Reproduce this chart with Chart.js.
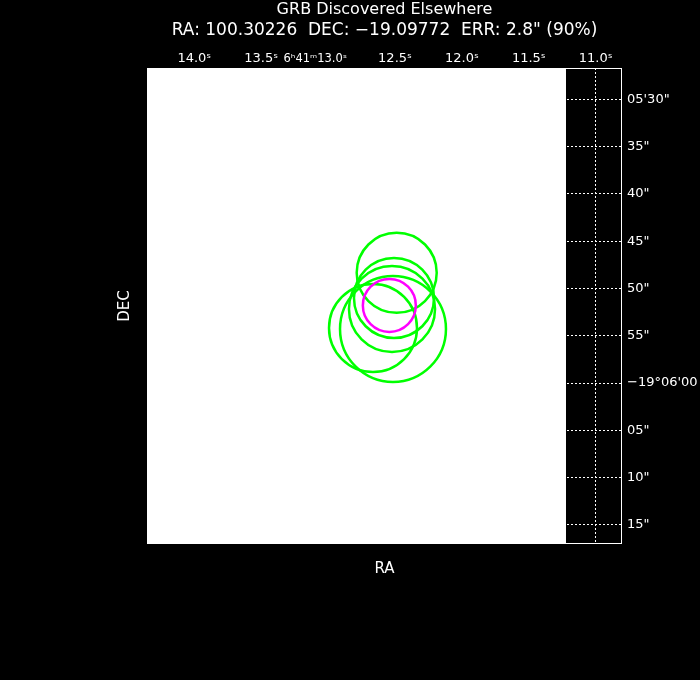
<!DOCTYPE html>
<html>
<head>
<meta charset="utf-8">
<script src="https://cdn.jsdelivr.net/npm/chart.js@4"></script>
<style>
  html, body { margin: 0; padding: 0; background: #000; }
  canvas { display: block; }
</style>
</head>
<body>
<canvas id="myChart" width="700" height="680"></canvas>
<script>
// Error circles: RA in seconds after 6h41m, DEC in arcsec south of -19°05'00"
const circleRa = [12.4873, 12.5075, 12.5224, 12.6644, 12.515];
const circleDec = [48.34, 51.00, 52.17, 54.18, 54.28];
const circleErr = [4.23, 4.23, 4.55, 4.65, 5.6];

// Position found here (90% error)
const bestRa = [12.5423];
const bestDec = [51.79];
const bestErr = [2.8];

// Axis ticks and labels
const nb = "\u00a0";
const raTicks = [11.0, 11.5, 12.0, 12.5, 13.0, 13.5, 14.0];
const raLabels = ["11.0ˢ", "11.5ˢ", "12.0ˢ", "12.5ˢ", "6ʰ41ᵐ13.0ˢ" + nb.repeat(7), "13.5ˢ", "14.0ˢ"];
const decTicks = [30, 35, 40, 45, 50, 55, 60, 65, 70, 75];
const decLabels = ["05'30\"", "35\"", "40\"", "45\"", "50\"", "55\"", "\u221219°06'00", "05\"", "10\"", "15\""];

const raRange = [10.8034, 14.3535];
const decRange = [26.69, 77.01];
const imageEdgeRa = 11.222;   // image stops here, black beyond

const FONT = "'DejaVu Sans', sans-serif";

// arcsec -> pixels, through the DEC scale
function arcsecToPx(chart, r) {
  const s = chart.scales.y;
  return Math.abs(s.getPixelForValue(r) - s.getPixelForValue(0));
}

const skyImage = {
  id: "skyImage",
  beforeDraw(chart) {
    const {ctx, chartArea: a, scales} = chart;
    ctx.save();
    ctx.fillStyle = "#000";
    ctx.fillRect(0, 0, chart.width, chart.height);
    ctx.fillStyle = "#fff";
    const edge = scales.x.getPixelForValue(imageEdgeRa);
    ctx.fillRect(a.left, a.top, edge - a.left, a.bottom - a.top);
    ctx.restore();
  },
  afterDraw(chart) {
    const {ctx, chartArea: a} = chart;
    ctx.save();
    ctx.strokeStyle = "#fff";
    ctx.lineWidth = 1;
    ctx.strokeRect(a.left + 0.5, a.top + 0.5, a.right - a.left - 1, a.bottom - a.top - 1);
    ctx.restore();
  }
};

// an axis used only to carry a title
function titleAxis(position, weight, size, text, padding, afterFit) {
  return {
    type: "linear",
    position: position,
    weight: weight,
    afterFit: afterFit,
    ticks: {display: false},
    grid: {display: false},
    border: {display: false},
    title: {
      display: true,
      text: text,
      color: "#fff",
      font: {family: FONT, size: size, lineHeight: "20px"},
      padding: padding
    }
  };
}

const ctx = document.getElementById("myChart").getContext("2d");
const myChart = new Chart(ctx, {
  type: "bubble",
  data: {
    datasets: [
      {
        label: "ERR 90%",
        data: bestRa.map((x, i) => ({x: x, y: bestDec[i]})),
        radius: c => arcsecToPx(c.chart, bestErr[c.dataIndex]),
        borderColor: "#ff00ff",
        backgroundColor: "rgba(0,0,0,0)",
        borderWidth: 2.5,
        xAxisID: "x",
        yAxisID: "y"
      },
      {
        label: "Other positions",
        data: circleRa.map((x, i) => ({x: x, y: circleDec[i]})),
        radius: c => arcsecToPx(c.chart, circleErr[c.dataIndex]),
        borderColor: "#00ff00",
        backgroundColor: "rgba(0,0,0,0)",
        borderWidth: 2.5,
        xAxisID: "x",
        yAxisID: "y"
      }
    ]
  },
  options: {
    responsive: false,
    animation: false,
    parsing: false,
    events: [],
    layout: {padding: 0},
    plugins: {
      legend: {display: false},
      tooltip: {enabled: false}
    },
    scales: {
      t1: titleAxis("top", 2, 16, "GRB Discovered Elsewhere", {top: 0, bottom: 0},
        s => { s.height = 20; }),
      t2: titleAxis("top", 1, 17, "RA: 100.30226  DEC: \u221219.09772  ERR: 2.8\" (90%)", {top: 1, bottom: 0},
        s => { s.height = 21; }),
      x: {
        type: "linear",
        position: "top",
        weight: 0,
        reverse: true,
        min: raRange[0],
        max: raRange[1],
        afterBuildTicks: s => { s.ticks = raTicks.map(v => ({value: v})); },
        afterFit: s => { s.height = 27; },
        ticks: {
          color: "#fff",
          font: c => ({family: FONT, size: c.tick && c.tick.value === 13.0 ? 11.5 : 13}),
          padding: 2,
          maxRotation: 0,
          autoSkip: false,
          callback: v => raLabels[raTicks.indexOf(v)]
        },
        grid: {color: "#fff", lineWidth: 1, drawTicks: false},
        border: {display: false, dash: [2, 2]}
      },
      y: {
        type: "linear",
        position: "right",
        reverse: true,
        min: decRange[0],
        max: decRange[1],
        afterBuildTicks: s => { s.ticks = decTicks.map(v => ({value: v})); },
        afterFit: s => { s.width = 78; },
        ticks: {
          color: "#fff",
          font: {family: FONT, size: 13},
          padding: 5,
          autoSkip: false,
          callback: v => decLabels[decTicks.indexOf(v)]
        },
        grid: {color: "#fff", lineWidth: 1, drawTicks: false},
        border: {display: false, dash: [2, 2]}
      },
      x2: titleAxis("bottom", 0, 15, "RA", {top: 0, bottom: 101}, s => { s.height = 136; }),
      y2: titleAxis("left", 0, 15, "DEC", {top: 115}, s => { s.width = 147; })
    }
  },
  plugins: [skyImage]
});
</script>
</body>
</html>
